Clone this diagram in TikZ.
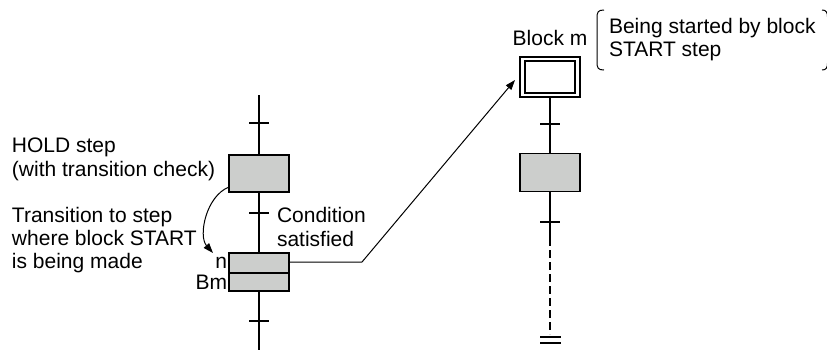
\documentclass[tikz,border=0pt]{standalone}
\usepackage{fontspec}
\setmainfont{Liberation Sans}
\usetikzlibrary{arrows.meta}
\definecolor{stepgray}{RGB}{204,206,204}
\begin{document}
\begin{tikzpicture}[x=1pt,y=-1pt,
  every node/.style={font=\fontsize{21}{24}\selectfont, inner sep=0pt, outer sep=0pt},
  lbl/.style={anchor=base west},
  rlbl/.style={anchor=base east},
  stepbox/.style={draw, line width=1.3pt, fill=stepgray, minimum width=60pt},
  plainbox/.style={draw, line width=1.2pt, fill=white},
  chainline/.style={line width=2pt},
  tickline/.style={line width=2pt},
  conn/.style={line width=1pt},
  tipa/.style={-{Triangle[length=10pt,width=7pt]}}]
\useasboundingbox (0,0) rectangle (827,349);

% ---------- left chain ----------
\coordinate (ltop) at (259,95);
\coordinate (lbot) at (259,352);
\node[stepbox, minimum height=37pt] (hold) at (259,173.5) {};
\node[stepbox, minimum height=20pt] (nbox) at (259,263) {};
\node[stepbox, minimum height=18pt] (bmbox) at (259,282) {};
\draw[chainline] (ltop) -- (hold.north);
\draw[chainline] (hold.south) -- (nbox.north);
\draw[chainline] (bmbox.south) -- (lbot);
\draw[tickline] (249,123) -- (269,123);
\draw[tickline] (249,213) -- (269,213);
\draw[tickline] (249,321) -- (269,321);

% ---------- right chain ----------
\node[plainbox, minimum width=60pt, minimum height=40pt] (blockm) at (550,77) {};
\node[plainbox, minimum width=50pt, minimum height=32pt] (blockmin) at (550,77) {};
\node[stepbox, minimum height=38pt] (rbox) at (550,172.5) {};
\coordinate (rsolid) at (550,246);
\coordinate (rdash) at (550,334);
\draw[chainline] (blockm.south) -- (rbox.north);
\draw[chainline] (rbox.south) -- (rsolid);
\draw[line width=1.3pt, dash pattern=on 8pt off 4pt] ([yshift=-4pt]rsolid) -- (rdash);
\draw[tickline] (540,124) -- (560,124);
\draw[tickline] (540,222) -- (560,222);
\draw[tickline] (540,337) -- (561,337);
\draw[tickline] (540,343) -- (561,343);

% ---------- texts ----------
\node[anchor=base] (lblockm) at (550,45) {Block m};
\node[lbl] (bs1) at (609,33) {Being started by block};
\node[lbl] (bs2) at (609,56) {START step};
\draw[conn] (604,10) .. controls (598,10) and (597,12) .. (597,18) -- (597,62) .. controls (597,68) and (598,70) .. (604,70);
\draw[conn] (822,10) .. controls (826,10) and (827.6,12) .. (827.6,18) -- (827.6,62) .. controls (827.6,68) and (826,70) .. (822,70);

\node[lbl] (h1) at (12,152) {HOLD step};
\node[lbl] (h2) at (12,176) {(with transition check)};
\node[lbl] (t1) at (12,222) {Transition to step};
\node[lbl] (t2) at (12,245) {where block START};
\node[lbl] (t3) at (12,268) {is being made};
\node[rlbl] (ln) at (227,268) {n};
\node[rlbl] (lbm) at (227,289) {Bm};
\node[lbl] (c1) at (277,222) {Condition};
\node[lbl] (c2) at (277,246) {satisfied};

% ---------- connectors ----------
\coordinate (ntip) at (213,253);
\draw[conn, tipa] ([yshift=5pt]hold.south west) .. controls (206,196) and (198,236) .. (ntip);
\coordinate (bend) at (362,262);
\coordinate (mtip) at (515,80);
\draw[conn, tipa] (nbox.east |- bend) -- (bend) -- (mtip);
\end{tikzpicture}
\end{document}
